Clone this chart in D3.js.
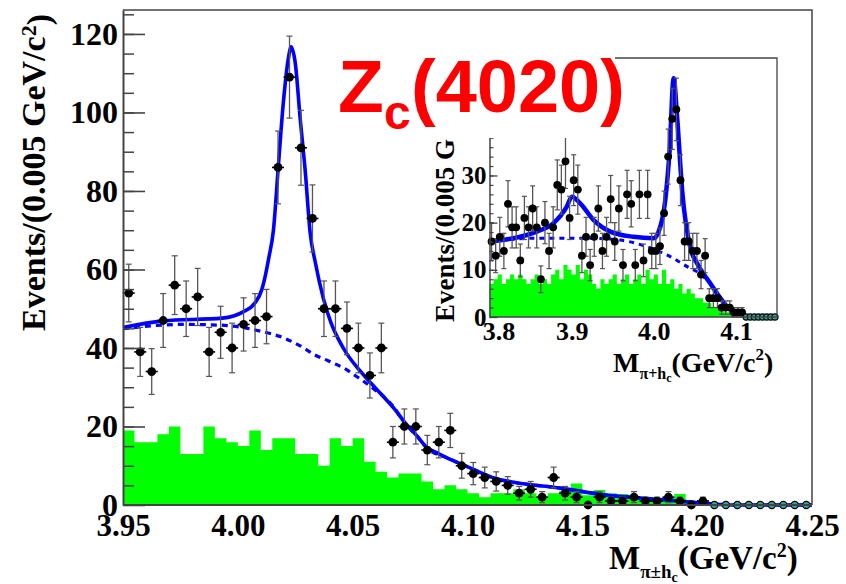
<!DOCTYPE html>
<html>
<head>
<meta charset="utf-8">
<script src="https://cdn.jsdelivr.net/npm/d3@7/dist/d3.min.js"></script>
<style>
  body { margin: 0; background: #fff; }
  svg { display: block; }
</style>
</head>
<body>
<script>
// ---- main plot data: 60 bins of 0.005 GeV starting at 3.95 ----
var mainStart = 3.95;
var binWidth = 0.005;
// null = empty bin (drawn as open marker)
var mainCounts = [54, 39, 34, 47, 56, 50, 53, 39, 44, 40, 46, 47, 48, 86, 109, 91, 73, 50, 50, 45,
  40, 33, 40, 16, 20, 20, 14, 16, 19, 10, 8, 7, 6, 5, 3, 4, 2, 7, 3, 2,
  0, 2, 1, 1, 2, 1, 1, 2, 1, 0, 1, null, null, null, null, null, null, null, null, null];
var mainSideband = [19, 16, 16, 18, 20, 13, 13, 20, 17, 16, 15, 19, 14, 17, 17, 13, 13, 10, 17, 15,
  17, 11, 8.5, 7, 8, 8, 6, 4, 5, 4, 3, 2, 3, 3, 4, 3, 2, 3, 3.6, 5.5,
  2.5, 3.8, 3, 2.8, 2.3, 1.7, 1.5, 2, 2.8, 0.6, 1.3, 0, 0, 0, 0, 0, 0, 0, 0, 0];
var mainFitX = [3.95, 3.9674, 3.9932, 4.0023, 4.0075, 4.0104, 4.0120, 4.0135, 4.0155, 4.0176, 4.0198,
  4.0219, 4.0232, 4.0250, 4.0272, 4.0293, 4.0315, 4.0337, 4.0373, 4.0405, 4.0440, 4.0475, 4.0523,
  4.0574, 4.0628, 4.0680, 4.0725, 4.0780, 4.0824, 4.0870, 4.0911, 4.0998, 4.1114, 4.1201, 4.1405,
  4.1610, 4.1754, 4.1959, 4.2059, 4.2150, 4.25];
var mainFitY = [45.2, 46.9, 47.6, 49.2, 51.5, 54.8, 58.5, 63, 70, 86, 102.4,
  113.4, 116.7, 112.6, 98.1, 85.4, 69.3, 61.9, 52.5, 46.5, 42.0, 38.5, 34.8,
  31.4, 28.0, 24.6, 21.2, 17.6, 14.6, 13.2, 12.0, 9.8, 6.9, 5.8, 4.3,
  2.5, 1.8, 0.8, 0.3, 0, 0];
var mainBkgX = [3.95, 3.9756, 3.993, 4.0105, 4.0184, 4.0279, 4.033, 4.0395, 4.0475, 4.0508, 4.0591,
  4.0678, 4.0725, 4.078, 4.0824, 4.0911, 4.0998, 4.1114, 4.1201, 4.1405, 4.161, 4.1754, 4.1959,
  4.2059, 4.215, 4.25];
var mainBkgY = [44.9, 46.0, 45.8, 44.2, 42.9, 40.3, 38.4, 36.7, 34.4, 33.1, 29.6,
  25.0, 21.0, 17.5, 14.5, 12.0, 9.8, 6.9, 5.8, 4.3, 2.5, 1.8, 0.8,
  0.3, 0, 0];
var mainXTicks = [3.95, 4.00, 4.05, 4.10, 4.15, 4.20, 4.25];
var mainYTicks = [0, 20, 40, 60, 80, 100, 120];

// ---- inset data: 70 bins of 0.005 GeV starting at 3.80 ----
var insetStart = 3.8;
var insetCounts = [16, 13, 17, 14, 24, 19, 19, 12, 21, 19, 23, 19, 8, 20, 14, 19, 28, 27, 33, 21,
  29, 27, 13, 17, 11, 17, 23, 14, 17, 25, 16, 23, 11, 26, 24, 11, 26, 12, 26, 14,
  14, 15, 22, 34, 42, 44, 29, 16, 16, 14, 14, 9, 13, 4, 4, 4, 2, 2, 2, 1,
  1, 1, null, null, null, null, null, null, null, null];
var insetSideband = [7, 8, 9, 7, 8, 9, 8, 9, 8, 7, 8, 9, 7, 8, 7, 9, 10, 8, 11, 10,
  9, 11, 8, 10, 9, 7, 6, 8, 7, 8, 9, 7, 8, 9, 7, 8, 9, 7, 10, 8,
  9, 7, 10, 7, 8, 6, 7, 5, 6, 5, 4, 4, 3, 3, 2, 2, 1.5, 1, 1, 0.5,
  0.3, 0, 0, 0, 0, 0, 0, 0, 0, 0];
var insetFitX = [3.8, 3.8372, 3.8576, 3.8779, 3.8941, 3.9002, 3.9104, 3.9266, 3.9470, 3.9754, 3.9998,
  4.0059, 4.0140, 4.0193, 4.0242, 4.0284, 4.0345, 4.0446, 4.0527, 4.0689, 4.0811, 4.0893, 4.1055,
  4.1137, 4.15];
var insetFitY = [16.0, 17.0, 18.1, 19.9, 23.4, 25.5, 24.1, 20.6, 18.1, 17.0, 16.7,
  18.1, 24.8, 35.4, 50.6, 42.4, 26.9, 14.6, 11.4, 7.1, 4.0, 2.2, 0.8,
  0, 0];
var insetBkgX = [3.8, 3.8576, 3.9185, 3.959, 3.9917, 4.0201, 4.0446, 4.0527, 4.0689, 4.0811, 4.0893,
  4.1055, 4.1137, 4.15];
var insetBkgY = [16, 16.7, 16.7, 16.3, 14.9, 12.8, 10.3, 9.6, 7.0, 4.0, 2.1,
  0.7, 0, 0];
var insetXTicks = [3.8, 3.9, 4.0, 4.1];
var insetYTicks = [0, 10, 20, 30];

var serif = "'Liberation Serif', 'Times New Roman', serif";
var green = "#00ff00";
var blue = "#0000ff";

var svg = d3.select("body").append("svg")
  .attr("width", 846)
  .attr("height", 584);

// draws one histogram panel (sideband, fits, data points)
function panel(g, x, y, start, counts, sideband, fitX, fitY, bkgX, bkgY, opt) {
  var edges = sideband.map(function (v, i) { return [start + i * binWidth, v]; });
  edges.push([start + sideband.length * binWidth, sideband[sideband.length - 1]]);
  var area = d3.area()
    .curve(d3.curveStepAfter)
    .x(function (d) { return x(d[0]); })
    .y0(y(0))
    .y1(function (d) { return y(d[1]); });
  g.append("path").datum(edges).attr("d", area).attr("fill", green);

  var line = d3.line()
    .curve(d3.curveMonotoneX)
    .x(function (d) { return x(d[0]); })
    .y(function (d) { return y(d[1]); });
  g.append("path")
    .datum(bkgX.map(function (v, i) { return [v, bkgY[i]]; }))
    .attr("d", line)
    .attr("fill", "none")
    .attr("stroke", blue)
    .attr("stroke-width", opt.lw)
    .attr("stroke-dasharray", opt.dash);
  g.append("path")
    .datum(fitX.map(function (v, i) { return [v, fitY[i]]; }))
    .attr("d", line)
    .attr("fill", "none")
    .attr("stroke", blue)
    .attr("stroke-width", opt.fw);

  var pts = counts.map(function (v, i) { return { x: start + (i + 0.5) * binWidth, v: v }; });
  var filled = pts.filter(function (d) { return d.v !== null; });
  var empty = pts.filter(function (d) { return d.v === null; });

  function hi(d) { return y(d.v + Math.sqrt(d.v)); }
  function lo(d) { return y(Math.max(0, d.v - Math.sqrt(d.v))); }

  var eb = g.selectAll(".eb").data(filled.filter(function (d) { return d.v > 0; }))
    .enter().append("g").attr("class", "eb");
  eb.append("line")
    .attr("x1", function (d) { return x(d.x); })
    .attr("x2", function (d) { return x(d.x); })
    .attr("y1", hi)
    .attr("y2", lo)
    .attr("stroke", "#555").attr("stroke-width", 1.3);
  [hi, lo].forEach(function (f) {
    eb.append("line")
      .attr("x1", function (d) { return x(d.x) - opt.cap; })
      .attr("x2", function (d) { return x(d.x) + opt.cap; })
      .attr("y1", f)
      .attr("y2", f)
      .attr("stroke", "#555").attr("stroke-width", 1.2);
  });
  g.selectAll(".hx").data(filled).enter().append("line")
    .attr("x1", function (d) { return x(d.x) - opt.hw; })
    .attr("x2", function (d) { return x(d.x) + opt.hw; })
    .attr("y1", function (d) { return y(d.v); })
    .attr("y2", function (d) { return y(d.v); })
    .attr("stroke", "#000").attr("stroke-width", 1.6);
  g.selectAll(".pt").data(filled).enter().append("circle")
    .attr("cx", function (d) { return x(d.x); })
    .attr("cy", function (d) { return y(d.v); })
    .attr("r", opt.r)
    .attr("fill", "#000");
  g.selectAll(".ept").data(empty).enter().append("circle")
    .attr("cx", function (d) { return x(d.x); })
    .attr("cy", y(0))
    .attr("r", opt.r - 0.8)
    .attr("fill", "#2aa898")
    .attr("stroke", "#000")
    .attr("stroke-width", 1.2);
}

// ---------------- main plot ----------------
var x = d3.scaleLinear().domain([3.95, 4.25]).range([123, 812]);
var y = d3.scaleLinear().domain([0, 126.1]).range([505, 10]);
var main = svg.append("g");

panel(main, x, y, mainStart, mainCounts, mainSideband, mainFitX, mainFitY, mainBkgX, mainBkgY,
  { lw: 3.2, fw: 3.6, dash: "6,5", cap: 3, hw: 6, r: 4.4 });

// frame
main.append("path")
  .attr("d", "M" + x(3.95) + "," + y(126.1) + "H" + x(4.25) + "V" + y(0))
  .attr("fill", "none").attr("stroke", "#444").attr("stroke-width", 1.5);
main.append("line")
  .attr("x1", x(3.95)).attr("x2", x(4.25)).attr("y1", y(0)).attr("y2", y(0))
  .attr("stroke", "#444").attr("stroke-width", 2);

var minorMain = d3.range(5, 126, 5);
main.append("g")
  .attr("transform", "translate(" + x(3.95) + ",0)")
  .call(d3.axisLeft(y).tickValues(minorMain).tickSizeInner(-11).tickSizeOuter(0).tickFormat(""))
  .call(function (a) { a.selectAll("line").attr("stroke", "#444").attr("stroke-width", 1.5); a.select(".domain").remove(); });
var yAxis = main.append("g")
  .attr("transform", "translate(" + x(3.95) + ",0)")
  .call(d3.axisLeft(y).tickValues(mainYTicks).tickSizeInner(-22).tickSizeOuter(0).tickPadding(5));
yAxis.select(".domain").attr("stroke", "#444").attr("stroke-width", 2);
yAxis.selectAll("line").attr("stroke", "#444").attr("stroke-width", 1.6);
yAxis.selectAll("text")
  .style("font-family", serif).style("font-weight", "bold").style("font-size", "32px").attr("fill", "#000");

var xAxis = main.append("g")
  .attr("transform", "translate(0," + y(0) + ")")
  .call(d3.axisBottom(x).tickValues(mainXTicks).tickSize(0).tickPadding(9).tickFormat(d3.format(".2f")));
xAxis.select(".domain").remove();
xAxis.selectAll("text")
  .style("font-family", serif).style("font-weight", "bold").style("font-size", "31px").attr("fill", "#000");

// y title
var yt = main.append("text")
  .attr("transform", "translate(45,331) rotate(-90)")
  .style("font-family", serif).style("font-weight", "bold").style("font-size", "34px");
yt.append("tspan").text("Events/(0.005 GeV/c");
yt.append("tspan").attr("dy", "-0.42em").style("font-size", "22px").text("2");
yt.append("tspan").attr("dy", "0.42em").text(")");

// x title
var xt = main.append("text")
  .attr("x", 609).attr("y", 569)
  .style("font-family", serif).style("font-weight", "bold").style("font-size", "33px");
xt.append("tspan").text("M");
xt.append("tspan").attr("dy", 9).style("font-size", "19px").text("\u03c0\u00b1h");
xt.append("tspan").attr("dy", 4).style("font-size", "14px").text("c");
xt.append("tspan").attr("dy", -13).text("(GeV/c");
xt.append("tspan").attr("dy", -12).style("font-size", "20px").text("2");
xt.append("tspan").attr("dy", 12).text(")");

// ---------------- inset ----------------
var xi = d3.scaleLinear().domain([3.8, 4.15]).range([489.5, 777]);
var yi = d3.scaleLinear().domain([0, 54.9]).range([317, 58]);
var inset = svg.append("g");

panel(inset, xi, yi, insetStart, insetCounts, insetSideband, insetFitX, insetFitY, insetBkgX, insetBkgY,
  { lw: 3, fw: 4.5, dash: "5,5", cap: 2.5, hw: 3.5, r: 3.9 });

inset.append("path")
  .attr("d", "M" + xi(3.8) + "," + yi(54.9) + "H" + xi(4.15) + "V" + yi(0) + "H" + xi(3.8))
  .attr("fill", "none").attr("stroke", "#444").attr("stroke-width", 1.3);

var minorInset = d3.range(2, 55, 2);
inset.append("g")
  .attr("transform", "translate(" + xi(3.8) + ",0)")
  .call(d3.axisLeft(yi).tickValues(minorInset).tickSizeInner(-4).tickSizeOuter(0).tickFormat(""))
  .call(function (a) { a.selectAll("line").attr("stroke", "#444").attr("stroke-width", 1.2); a.select(".domain").remove(); });
var yAxisI = inset.append("g")
  .attr("transform", "translate(" + xi(3.8) + ",0)")
  .call(d3.axisLeft(yi).tickValues(insetYTicks).tickSizeInner(-8).tickSizeOuter(0).tickPadding(3));
yAxisI.select(".domain").attr("stroke", "#444").attr("stroke-width", 1.5);
yAxisI.selectAll("line").attr("stroke", "#444").attr("stroke-width", 1.3);
yAxisI.selectAll("text")
  .style("font-family", serif).style("font-weight", "bold").style("font-size", "25px").attr("fill", "#000");

var xAxisI = inset.append("g")
  .attr("transform", "translate(0," + yi(0) + ")")
  .call(d3.axisBottom(xi).tickValues(insetXTicks).tickSize(0).tickPadding(5).tickFormat(d3.format(".1f")));
xAxisI.select(".domain").remove();
xAxisI.selectAll("text")
  .style("font-family", serif).style("font-weight", "bold").style("font-size", "26px").attr("fill", "#000");
// first label sits a little to the right, as in the original
xAxisI.selectAll("text").filter(function (d) { return d === 3.8; }).attr("dx", 9);

// inset y title: only the part below the label box is visible
svg.append("clipPath").attr("id", "ytclip")
  .append("rect").attr("x", 420).attr("y", 138).attr("width", 60).attr("height", 200);
inset.append("g")
  .attr("clip-path", "url(#ytclip)")
  .append("text")
  .attr("transform", "translate(454,322) rotate(-90)")
  .style("font-family", serif).style("font-weight", "bold").style("font-size", "27px")
  .text("Events/(0.005 G");

var xti = inset.append("text")
  .attr("x", 613).attr("y", 372)
  .style("font-family", serif).style("font-weight", "bold").style("font-size", "28px");
xti.append("tspan").text("M");
xti.append("tspan").attr("dy", 7).style("font-size", "16px").text("\u03c0+h");
xti.append("tspan").attr("dy", 3).style("font-size", "12px").text("c");
xti.append("tspan").attr("dy", -10).text("(GeV/c");
xti.append("tspan").attr("dy", -12).style("font-size", "17px").text("2");
xti.append("tspan").attr("dy", 12).text(")");

// ---------------- label box ----------------
svg.append("rect")
  .attr("x", 330).attr("y", 36).attr("width", 285).attr("height", 102)
  .attr("fill", "#fff");
var sans = "'Liberation Sans', Arial, sans-serif";
svg.append("text").attr("x", 338).attr("y", 112)
  .style("font-family", sans).style("font-weight", "bold").style("font-size", "75px")
  .attr("fill", "#ff0000").text("Z");
svg.append("text").attr("x", 384).attr("y", 129)
  .style("font-family", sans).style("font-weight", "bold").style("font-size", "48px")
  .attr("fill", "#ff0000").text("c");
svg.append("text").attr("x", 411).attr("y", 112)
  .style("font-family", sans).style("font-weight", "bold").style("font-size", "74px")
  .attr("fill", "#ff0000").text("(4020)");
</script>
</body>
</html>
